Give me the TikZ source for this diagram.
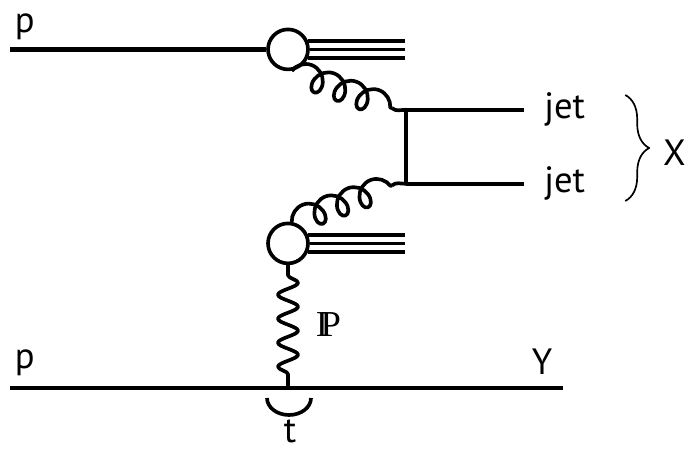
\documentclass[tikz,border=0pt]{standalone}
\usepackage{fontspec}
\setmainfont{PT Sans}
\newfontfamily\serifbb{Liberation Serif}
\usetikzlibrary{positioning,decorations.pathmorphing,decorations.pathreplacing}
\tikzset{
	blob/.style={circle,draw,minimum size=1cm,inner sep=0pt,line width=2.6pt},
	gluon/.style={decorate,decoration={coil,aspect=0.85,segment length=0.6cm,amplitude=0.31cm},line width=2.6pt},
	pomeron/.style={decorate,decoration={snake,segment length=0.6cm,amplitude=0.25cm,pre length=0.25cm,post length=0.2cm},line width=2.6pt},
	lbl/.style={inner sep=1pt},
	hadron/.style={line width=2.4pt}
}
\begin{document}
\begin{tikzpicture}[scale=1, font=\fontsize{26}{30}\selectfont, line join=round, line cap=butt, line width=3.1pt]
	\useasboundingbox (0,0) rectangle (17.3,11.325);
	% protons in
	\node[blob] (top) at (7.2,10.09) {};
	\node[blob] (bot) at (7.2,5.24) {};
	\coordinate (pin1) at (0.25,10.09);
	\coordinate (pin2) at (0.25,1.63);
	\coordinate (pout2) at (14.08,1.63);
	\coordinate (hadE) at (10.13,0);
	\draw (pin1) -- (top);
	\draw (pin2) -- (pout2);
	\node[lbl,anchor=base west] (p1) at (0.28,10.52) {p};
	\node[lbl,anchor=base west] (p2) at (0.28,2.12) {p};
	\node[lbl,anchor=base] (Y) at (13.55,1.95) {Y};
	% remnants
	\foreach \a in {23.6,0,-23.6}{
		\draw[hadron] (top.\a) -- (top.\a -| hadE);
		\draw[hadron] (bot.\a) -- (bot.\a -| hadE);
	}
	% hard part
	\coordinate (v1) at (10.15,8.58);
	\coordinate (v2) at (10.15,6.73);
	\coordinate (g1) at (9.8,8.62);
	\coordinate (g2) at (9.8,6.69);
	\coordinate (j1) at (13.1,8.58);
	\coordinate (j2) at (13.1,6.73);
	\draw[gluon] (top.-80) -- (g1);
	\draw[line width=2.6pt] (g1) to[out=-40,in=180] (v1);
	\draw[gluon] (bot.80) -- (g2);
	\draw[line width=2.6pt] (g2) to[out=40,in=180] (v2);
	\draw (v1) -- (v2);
	\draw (v1) -- (j1);
	\draw (v2) -- (j2);
	\node[lbl,right=0.42cm of j1] (jet1) {jet};
	\node[lbl,right=0.42cm of j2] (jet2) {jet};
	\coordinate (b1) at (15.63,8.95);
	\coordinate (b2) at (15.63,6.3);
	\draw[decorate,decoration={brace,amplitude=0.6cm},line width=1.2pt] (b1) -- (b2);
	\node[lbl] (X) at (16.86,7.5) {X};
	% pomeron
	\draw[pomeron] (bot.south) -- (bot.south |- pin2);
	\node[lbl] (IP) at (8.21,3.2) {\serifbb I\kern-0.2em P};
	\coordinate (tR) at (7.775,1.375);
	\draw[line width=2.6pt] (tR) arc[start angle=0,end angle=-180,x radius=0.55cm,y radius=0.425cm];
	\node[lbl,anchor=base] (t) at (7.25,0.26) {t};
\end{tikzpicture}
\end{document}
